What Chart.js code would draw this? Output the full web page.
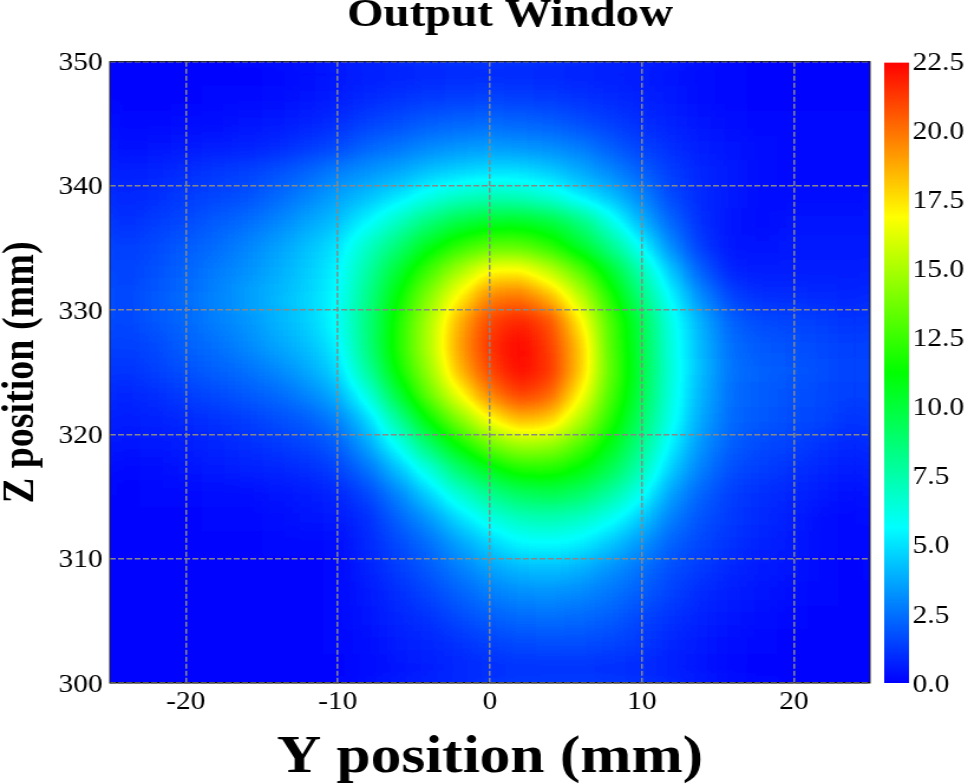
<!DOCTYPE html>
<html>
<head>
<meta charset="utf-8">
<title>Output Window</title>
<script src="https://cdn.jsdelivr.net/npm/chart.js@4"></script>
<style>
    html, body { margin: 0; padding: 0; background: #fff; overflow: hidden; }
    /* the reference is stretched sideways, text included */
    #heatmap { display: block; transform-origin: 0 0; transform: scaleX(1.1805); }
</style>
</head>
<body>
<canvas id="heatmap" width="820" height="784"></canvas>
<script>
const titleText = 'Output Window';
const yLabel = 'Y position (mm)';
const zLabel = 'Z position (mm)';

const xTickValues = [-20, -10, 0, 10, 20];
const zTickValues = [300, 310, 320, 330, 340, 350];
const barTickValues = [0, 2.5, 5, 7.5, 10, 12.5, 15, 17.5, 20, 22.5];

// cell centres, mm
const yCentres = [-24, -22, -20, -18, -16, -14, -12, -10, -8, -6, -4, -2, 0, 2, 4, 6, 8, 10, 12, 14, 16, 18, 20, 22, 24];
const zCentres = [349, 347, 345, 343, 341, 339, 337, 335, 333, 331, 329, 327, 325, 323, 321, 319, 317, 315, 313, 311, 309, 307, 305, 303, 301];

// one row per z centre
const cellValues = [
    [0.1, 0.1, 0.1, 0.1, 0.1, 0.2, 0.3, 0.4, 0.6, 0.7, 0.8, 0.9, 0.9, 0.9, 0.8, 0.7, 0.6, 0.5, 0.4, 0.3, 0.2, 0.1, 0.1, 0.1, 0.1],
    [0.1, 0.1, 0.1, 0.2, 0.2, 0.3, 0.4, 0.6, 0.9, 1.1, 1.2, 1.3, 1.4, 1.3, 1.2, 1.1, 0.9, 0.7, 0.5, 0.3, 0.2, 0.1, 0.1, 0.1, 0.1],
    [0.2, 0.2, 0.3, 0.3, 0.4, 0.5, 0.7, 1.0, 1.4, 1.7, 2.0, 2.2, 2.3, 2.2, 2.0, 1.7, 1.3, 1.0, 0.7, 0.4, 0.3, 0.2, 0.2, 0.2, 0.2],
    [0.3, 0.4, 0.5, 0.6, 0.7, 0.9, 1.2, 1.6, 2.2, 2.6, 3.0, 3.3, 3.4, 3.3, 3.1, 2.7, 2.0, 1.4, 1.0, 0.6, 0.4, 0.3, 0.2, 0.2, 0.2],
    [0.6, 0.8, 1.0, 1.2, 1.4, 1.8, 2.2, 2.8, 3.3, 3.7, 4.3, 4.7, 4.9, 4.9, 4.5, 3.8, 3.0, 2.1, 1.3, 0.8, 0.5, 0.3, 0.2, 0.2, 0.2],
    [0.8, 1.0, 1.3, 1.5, 1.8, 2.3, 2.9, 3.6, 4.2, 5.0, 6.1, 6.9, 7.2, 7.1, 6.4, 5.2, 4.2, 3.0, 1.6, 0.9, 0.5, 0.3, 0.3, 0.3, 0.3],
    [1.0, 1.3, 1.6, 2.0, 2.4, 2.9, 3.6, 4.2, 5.5, 7.0, 8.6, 9.8, 10.4, 10.5, 10.0, 8.6, 6.2, 4.0, 2.2, 1.0, 0.4, 0.3, 0.4, 0.4, 0.4],
    [1.3, 1.6, 2.0, 2.4, 2.9, 3.5, 4.2, 5.0, 6.9, 8.7, 10.8, 12.3, 13.2, 13.2, 12.2, 10.3, 8.2, 5.6, 3.0, 1.2, 0.4, 0.4, 0.5, 0.5, 0.5],
    [1.4, 1.8, 2.2, 2.7, 3.2, 3.8, 4.5, 5.4, 7.7, 10.2, 12.7, 15.0, 17.0, 17.2, 15.6, 13.2, 10.4, 7.3, 4.3, 2.0, 0.7, 0.6, 0.6, 0.6, 0.6],
    [1.5, 1.9, 2.4, 2.9, 3.5, 4.1, 4.7, 5.6, 8.2, 11.2, 14.2, 17.0, 19.6, 20.0, 18.4, 15.4, 11.8, 8.5, 5.4, 3.0, 1.4, 1.0, 1.0, 0.9, 0.8],
    [1.5, 1.9, 2.3, 2.8, 3.3, 4.0, 4.6, 5.7, 8.5, 11.8, 15.0, 18.6, 21.0, 21.8, 20.8, 17.2, 12.8, 9.6, 6.0, 3.8, 2.1, 1.6, 1.5, 1.3, 1.1],
    [1.3, 1.6, 2.1, 2.5, 3.0, 3.6, 4.2, 5.3, 8.5, 12.0, 15.2, 19.0, 21.4, 22.5, 21.2, 18.2, 13.0, 9.8, 6.2, 4.0, 2.4, 1.9, 1.8, 1.6, 1.3],
    [1.1, 1.4, 1.8, 2.1, 2.5, 3.0, 3.7, 4.8, 7.8, 11.5, 14.6, 18.4, 21.0, 22.3, 21.4, 18.2, 13.2, 9.9, 6.3, 4.1, 2.5, 2.1, 1.9, 1.7, 1.4],
    [0.8, 1.0, 1.3, 1.6, 1.9, 2.3, 2.9, 3.9, 6.2, 10.0, 13.5, 16.6, 19.6, 21.2, 20.4, 17.0, 12.8, 9.6, 6.2, 3.9, 2.4, 2.0, 1.8, 1.6, 1.3],
    [0.6, 0.7, 0.9, 1.1, 1.3, 1.7, 2.0, 2.8, 4.6, 7.8, 11.2, 14.0, 16.8, 18.4, 18.0, 15.2, 12.0, 9.0, 5.9, 3.6, 2.3, 1.9, 1.7, 1.5, 1.1],
    [0.4, 0.5, 0.6, 0.8, 1.0, 1.2, 1.5, 2.0, 3.6, 5.8, 8.8, 11.4, 13.6, 14.8, 14.6, 13.0, 10.8, 8.2, 5.3, 3.2, 2.0, 1.6, 1.4, 1.1, 0.8],
    [0.2, 0.3, 0.4, 0.5, 0.7, 0.8, 1.0, 1.4, 2.5, 4.2, 6.3, 8.8, 10.6, 11.8, 11.9, 11.0, 9.4, 7.2, 4.4, 2.7, 1.7, 1.3, 1.1, 0.8, 0.5],
    [0.1, 0.2, 0.2, 0.3, 0.3, 0.4, 0.5, 0.8, 1.5, 2.9, 4.6, 6.4, 8.0, 9.1, 9.4, 8.9, 7.6, 5.8, 3.4, 2.1, 1.3, 1.0, 0.8, 0.5, 0.3],
    [0.1, 0.1, 0.1, 0.2, 0.2, 0.3, 0.4, 0.5, 1.0, 2.1, 3.3, 4.8, 6.1, 7.0, 7.2, 6.8, 5.8, 4.4, 2.7, 1.8, 1.2, 0.9, 0.6, 0.3, 0.2],
    [0.1, 0.1, 0.1, 0.1, 0.1, 0.2, 0.2, 0.3, 0.9, 1.6, 2.4, 3.5, 4.6, 5.4, 5.6, 5.2, 4.3, 3.3, 2.1, 1.5, 1.1, 0.7, 0.5, 0.3, 0.2],
    [0.1, 0.1, 0.1, 0.1, 0.1, 0.1, 0.1, 0.2, 0.7, 1.3, 1.9, 2.7, 3.5, 4.1, 4.2, 3.9, 3.2, 2.5, 1.7, 1.2, 0.8, 0.5, 0.4, 0.2, 0.1],
    [0.1, 0.1, 0.1, 0.1, 0.1, 0.1, 0.1, 0.2, 0.5, 1.0, 1.5, 2.1, 2.7, 3.1, 3.2, 3.0, 2.6, 2.0, 1.4, 0.9, 0.6, 0.4, 0.3, 0.2, 0.1],
    [0.1, 0.1, 0.1, 0.1, 0.1, 0.1, 0.1, 0.2, 0.4, 0.8, 1.1, 1.6, 2.0, 2.3, 2.4, 2.3, 2.0, 1.5, 1.1, 0.7, 0.4, 0.3, 0.2, 0.1, 0.1],
    [0.1, 0.1, 0.1, 0.1, 0.1, 0.1, 0.1, 0.2, 0.3, 0.6, 0.8, 1.1, 1.4, 1.6, 1.7, 1.7, 1.5, 1.2, 0.8, 0.5, 0.3, 0.2, 0.1, 0.1, 0.1],
    [0.1, 0.1, 0.1, 0.1, 0.1, 0.1, 0.1, 0.1, 0.3, 0.4, 0.6, 0.8, 1.0, 1.1, 1.1, 1.1, 1.0, 0.9, 0.6, 0.4, 0.2, 0.1, 0.1, 0.1, 0.1]
];

// colour map: value, r, g, b
const colourStops = [
    [0, 0, 0, 255],
    [5.625, 0, 255, 255],
    [11.25, 0, 255, 0],
    [16.875, 255, 255, 0],
    [22.5, 255, 0, 0]
];
const valueMax = 22.5;

function colourFor(v) {
    for (let i = 1; i < colourStops.length; i++) {
        const a = colourStops[i - 1], b = colourStops[i];
        if (v <= b[0]) {
            const t = Math.max(0, (v - a[0]) / (b[0] - a[0]));
            return [a[1] + (b[1] - a[1]) * t, a[2] + (b[2] - a[2]) * t, a[3] + (b[3] - a[3]) * t];
        }
    }
    return [255, 0, 0];
}

const cells = [];
zCentres.forEach((z, r) => {
    yCentres.forEach((y, c) => {
        cells.push({ x: y, y: z, v: cellValues[r][c] });
    });
});

// cells go down as grey levels, get softened, and only then pick up the colour map,
// so the cyan and yellow ridges stay thin like in the reference.
// edges are stretched out first so the white page does not bleed in
const smoothCells = {
    id: 'smoothCells',
    afterDatasetsDraw(chart) {
        const a = chart.chartArea, ctx = chart.ctx, m = 40;
        const w = a.right - a.left, h = a.bottom - a.top;

        const buf = document.createElement('canvas');
        buf.width = w + m * 2;
        buf.height = h + m * 2;
        const b = buf.getContext('2d');
        b.drawImage(chart.canvas, a.left, a.top, w, h, 0, 0, w + m * 2, h + m * 2);
        b.drawImage(chart.canvas, a.left, a.top, w, h, m, m, w, h);

        const soft = document.createElement('canvas');
        soft.width = w;
        soft.height = h;
        const s = soft.getContext('2d');
        s.filter = 'blur(10px)';
        s.drawImage(buf, -m, -m);

        const img = s.getImageData(0, 0, w, h);
        for (let i = 0; i < img.data.length; i += 4) {
            const rgb = colourFor(img.data[i] / 255 * valueMax);
            img.data[i] = rgb[0];
            img.data[i + 1] = rgb[1];
            img.data[i + 2] = rgb[2];
            img.data[i + 3] = 255;
        }
        ctx.putImageData(img, a.left, a.top);
    }
};

const frameAndBar = {
    id: 'frameAndBar',
    beforeDraw(chart) {
        // title sits right of the plot centre in the reference
        chart.titleBlock.left = 44;
        // middle baseline sits a bit high for this font
        [chart.scales.y, chart.scales.bar].forEach(s => {
            s.getLabelItems().forEach(item => { item.options.translation[1] += 2; });
        });
    },
    afterDraw(chart) {
        const a = chart.chartArea, ctx = chart.ctx, bar = chart.scales.bar;
        ctx.save();
        ctx.strokeStyle = '#222';
        ctx.lineWidth = 1;
        ctx.strokeRect(a.left, a.top, a.right - a.left, a.bottom - a.top);

        const top = bar.getPixelForValue(valueMax), bottom = bar.getPixelForValue(0);
        const grad = ctx.createLinearGradient(0, bottom, 0, top);
        colourStops.forEach(s => {
            grad.addColorStop(s[0] / valueMax, `rgb(${s[1]}, ${s[2]}, ${s[3]})`);
        });
        ctx.fillStyle = grad;
        ctx.fillRect(a.right + 12, top + 1, 21, bottom - top - 1);
        ctx.restore();
    }
};

const tickFont = { family: '"Liberation Serif"', size: 25 };
const gridStyle = { color: '#888888', lineWidth: 1.5, z: 1, drawTicks: false };
const gridBorder = { display: false, dash: [5, 2] };

new Chart(document.getElementById('heatmap'), {
    type: 'scatter',
    data: {
        datasets: [{
            data: cells,
            pointStyle: 'rect',
            pointRadius: 19,
            pointBorderWidth: 0,
            backgroundColor: ctx => {
                const g = Math.round(ctx.raw.v / valueMax * 255);
                return `rgb(${g}, ${g}, ${g})`;
            }
        }]
    },
    plugins: [smoothCells, frameAndBar],
    options: {
        responsive: false,
        animation: false,
        events: [],
        layout: { padding: 0 },
        plugins: {
            legend: { display: false },
            tooltip: { enabled: false },
            title: {
                display: true,
                text: titleText,
                color: '#000',
                font: { family: '"Liberation Serif"', size: 39.7, weight: 'bold' },
                padding: { top: -8, bottom: 22 }
            }
        },
        scales: {
            x: {
                type: 'linear',
                min: -25,
                max: 25,
                afterBuildTicks: s => { s.ticks = xTickValues.map(v => ({ value: v })); },
                afterFit: s => { s.height = 101; },
                grid: gridStyle,
                border: gridBorder,
                ticks: { color: '#000', font: tickFont, padding: 4, maxRotation: 0, autoSkip: false },
                title: {
                    display: true,
                    text: yLabel,
                    color: '#000',
                    font: { family: '"Liberation Serif"', size: 52, weight: 'bold' },
                    padding: { top: 0, bottom: -6 }
                }
            },
            y: {
                type: 'linear',
                min: 300,
                max: 350,
                afterBuildTicks: s => { s.ticks = zTickValues.map(v => ({ value: v })); },
                afterFit: s => { s.width = 93; },
                grid: gridStyle,
                border: gridBorder,
                ticks: { color: '#000', font: tickFont, padding: 6, autoSkip: false },
                title: {
                    display: true,
                    text: zLabel,
                    color: '#000',
                    font: { family: '"Liberation Serif"', size: 38, weight: 'bold' },
                    padding: { top: -5, bottom: 0 }
                }
            },
            bar: {
                type: 'linear',
                position: 'right',
                min: 0,
                max: 22.5,
                afterBuildTicks: s => { s.ticks = barTickValues.map(v => ({ value: v })); },
                afterFit: s => { s.width = 83; },
                grid: { display: false, drawTicks: false },
                border: { display: false },
                ticks: { color: '#000', font: tickFont, padding: 36, autoSkip: false, callback: v => v.toFixed(1) }
            }
        }
    }
});
</script>
</body>
</html>
